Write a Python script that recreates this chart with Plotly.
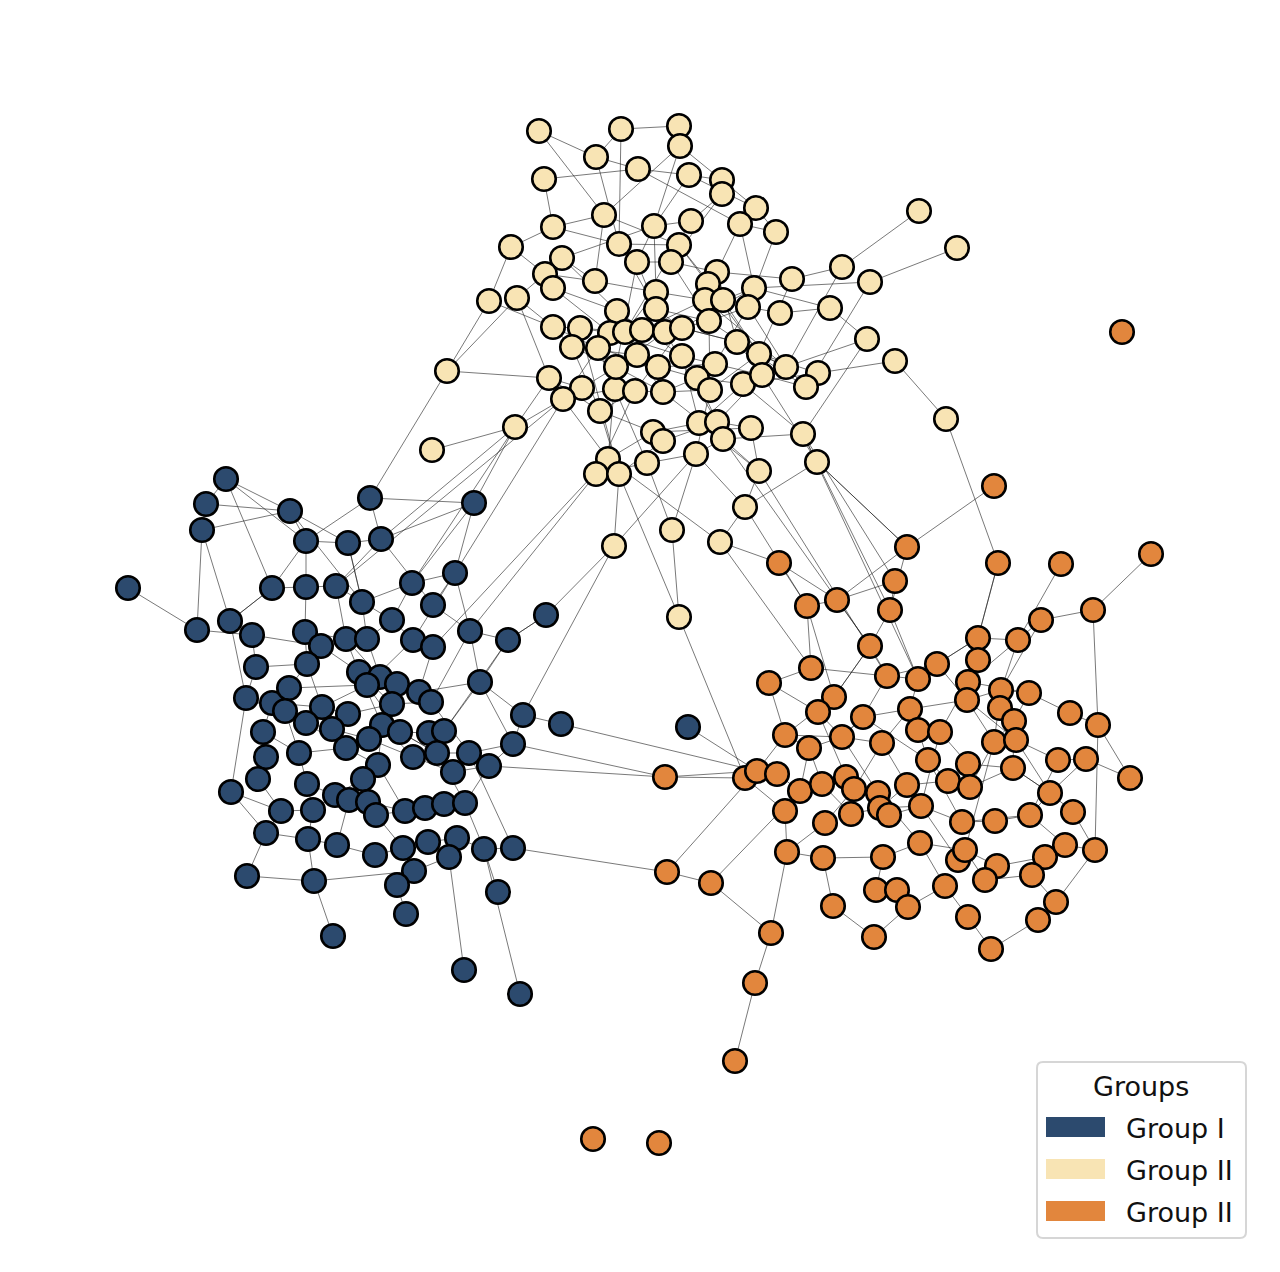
#!/usr/bin/env python3
"""
Three-group network plot (node positions + edges read from the reference layout)
usage: python3 plot.py  -> out.html
"""
import numpy as np
import plotly.graph_objects as go

W, H = 1280, 1272
PAGE_MARGIN = 8  # default <body> margin of the browser page

LEGEND_TITLE = "Groups"
GROUP_LABELS = ["Group I", "Group II", "Group II"]
GROUP_COLORS = ["#2c4a6e", "#f8e4b4", "#e2863d"]

# layout positions (pixel-like layout space, y down)
GROUP_I_NODES = [
    (226, 479), (206, 504), (202, 530), (370, 498), (474, 503), (290, 511), (306, 541), (348, 543),
    (381, 539), (128, 588), (272, 588), (306, 587), (336, 586), (412, 583), (455, 573), (362, 602),
    (433, 605), (546, 615), (197, 630), (230, 621), (252, 635), (305, 632), (321, 646), (346, 639),
    (367, 639), (392, 620), (413, 640), (433, 647), (470, 631), (508, 640), (256, 667), (307, 664),
    (359, 672), (380, 677), (367, 685), (397, 684), (419, 692), (431, 702), (392, 704), (480, 682),
    (246, 698), (272, 703), (289, 688), (285, 711), (322, 707), (348, 714), (306, 723), (332, 729),
    (382, 725), (400, 732), (429, 733), (444, 731), (523, 715), (561, 724), (688, 727), (263, 732),
    (266, 757), (299, 753), (346, 748), (369, 739), (413, 757), (437, 753), (469, 753), (489, 766),
    (513, 744), (378, 765), (453, 772), (258, 779), (307, 784), (363, 779), (335, 795), (231, 792),
    (281, 811), (313, 810), (349, 800), (368, 802), (376, 815), (405, 811), (425, 808), (444, 804),
    (465, 803), (266, 833), (308, 839), (337, 845), (375, 855), (403, 848), (428, 842), (457, 838),
    (449, 857), (484, 849), (513, 848), (414, 871), (397, 885), (247, 876), (314, 881), (498, 892),
    (406, 914), (333, 936), (464, 970), (520, 994),
]

GROUP_II_NODES = [
    (539, 131), (621, 129), (679, 126), (680, 146), (596, 157), (638, 169), (544, 179), (689, 175),
    (722, 180), (722, 194), (756, 208), (604, 215), (553, 227), (654, 226), (691, 221), (740, 224),
    (776, 232), (919, 211), (957, 248), (511, 247), (562, 258), (619, 244), (679, 245), (671, 262),
    (637, 262), (717, 272), (545, 274), (553, 288), (595, 281), (656, 292), (708, 284), (705, 300),
    (723, 300), (754, 288), (792, 279), (842, 267), (870, 282), (489, 301), (517, 298), (617, 311),
    (656, 309), (748, 307), (780, 313), (830, 308), (553, 327), (580, 328), (610, 333), (625, 332),
    (642, 330), (665, 332), (682, 328), (709, 321), (572, 347), (598, 348), (637, 355), (682, 356),
    (715, 364), (737, 342), (759, 354), (786, 367), (818, 373), (867, 339), (895, 361), (447, 371),
    (549, 378), (582, 388), (615, 389), (635, 391), (616, 367), (658, 367), (663, 392), (697, 378),
    (710, 390), (743, 384), (762, 375), (806, 387), (563, 399), (600, 411), (946, 419), (515, 427),
    (653, 432), (663, 441), (699, 423), (717, 422), (723, 439), (751, 428), (803, 434), (432, 450),
    (608, 459), (596, 474), (619, 474), (647, 463), (696, 454), (759, 471), (817, 462), (745, 507),
    (672, 530), (720, 542), (614, 546), (679, 617),
]

GROUP_III_NODES = [
    (1122, 332), (994, 486), (907, 547), (1151, 554), (779, 563), (998, 563), (1061, 564), (895, 581),
    (807, 606), (837, 600), (890, 610), (1093, 610), (1041, 620), (978, 638), (1018, 640), (870, 646),
    (978, 660), (937, 664), (811, 668), (887, 676), (918, 679), (968, 682), (1001, 690), (1029, 693),
    (769, 683), (834, 697), (967, 700), (818, 712), (863, 717), (910, 709), (1000, 708), (1014, 721),
    (1070, 713), (1098, 725), (785, 735), (842, 737), (882, 743), (918, 730), (940, 732), (994, 742),
    (1016, 740), (809, 748), (928, 760), (968, 764), (1013, 768), (1058, 760), (1086, 759), (665, 777),
    (745, 778), (757, 771), (777, 774), (800, 791), (822, 784), (846, 777), (854, 789), (878, 793),
    (907, 785), (948, 781), (970, 787), (1130, 778), (785, 811), (825, 823), (851, 814), (880, 808),
    (889, 815), (921, 806), (962, 822), (995, 821), (1030, 815), (1050, 793), (1073, 812), (787, 852),
    (823, 858), (883, 857), (920, 843), (958, 860), (965, 850), (997, 866), (1045, 857), (1065, 845),
    (1095, 850), (667, 872), (711, 883), (876, 890), (897, 890), (945, 886), (985, 880), (1032, 875),
    (1056, 902), (833, 906), (908, 907), (968, 917), (1038, 920), (771, 933), (874, 937), (991, 949),
    (755, 983), (735, 1061), (593, 1139), (659, 1143),
]

# edges written as chains through nodes: consecutive points are linked
EDGE_CHAINS = [
    # group II
    [(539, 131), (604, 215), (553, 227), (511, 247), (489, 301), (447, 371), (549, 378), (515, 427), (432, 450)],
    [(621, 129), (679, 126), (680, 146), (756, 208), (776, 232), (748, 307), (786, 367)],
    [(621, 129), (619, 244), (637, 262), (671, 262), (717, 272), (792, 279), (842, 267), (919, 211)],
    [(596, 157), (638, 169), (740, 224), (754, 288), (830, 308), (867, 339), (803, 434), (890, 610)],
    [(544, 179), (638, 169), (689, 175), (722, 180), (722, 194), (691, 221), (654, 226), (562, 258)],
    [(544, 179), (553, 227), (619, 244), (679, 245), (708, 284), (759, 354), (818, 373), (895, 361), (946, 419), (998, 563)],
    [(680, 146), (604, 215), (595, 281), (545, 274), (517, 298), (553, 327), (580, 328), (610, 333)],
    [(680, 146), (654, 226), (656, 292), (625, 332), (598, 348), (563, 399), (515, 427)],
    [(596, 157), (619, 244), (656, 309), (682, 328), (737, 342), (806, 387), (870, 282), (957, 248)],
    [(511, 247), (545, 274), (553, 288), (617, 311), (642, 330), (665, 332), (709, 321), (748, 307), (780, 313), (830, 308)],
    [(562, 258), (595, 281), (656, 292), (705, 300), (723, 300), (754, 288)],
    [(553, 288), (610, 333), (682, 356), (715, 364), (762, 375), (817, 462), (907, 547)],
    [(572, 347), (637, 355), (658, 367), (697, 378), (743, 384), (803, 434), (895, 581)],
    [(549, 378), (582, 388), (616, 367), (665, 332), (717, 422), (751, 428), (759, 471)],
    [(563, 399), (615, 389), (642, 330), (705, 300), (786, 367), (842, 267)],
    [(600, 411), (635, 391), (663, 392), (710, 390), (759, 354), (792, 279)],
    [(608, 459), (653, 432), (699, 423), (743, 384), (818, 373)],
    [(596, 474), (647, 463), (696, 454), (723, 439), (803, 434)],
    [(619, 474), (663, 441), (717, 422), (762, 375), (867, 339)],
    [(614, 546), (619, 474), (600, 411), (572, 347), (553, 327)],
    [(614, 546), (696, 454), (745, 507), (817, 462)],
    [(679, 617), (672, 530), (647, 463), (615, 389), (598, 348)],
    [(679, 617), (619, 474), (580, 328), (625, 332), (691, 221)],
    [(720, 542), (608, 459), (563, 399)],
    [(720, 542), (745, 507), (759, 471), (723, 439), (663, 392), (637, 355)],
    [(672, 530), (696, 454), (710, 390), (709, 321), (671, 262), (722, 194)],
    [(489, 301), (553, 327), (598, 348), (658, 367), (715, 364), (748, 307)],
    [(517, 298), (549, 378), (600, 411), (653, 432), (751, 428)],
    [(447, 371), (517, 298)],
    [(539, 131), (596, 157), (621, 129)],
    [(776, 232), (740, 224), (717, 272), (737, 342), (786, 367), (806, 387)],
    [(756, 208), (689, 175), (654, 226), (637, 262), (616, 367), (608, 459)],
    [(870, 282), (754, 288), (682, 328), (635, 391), (596, 474)],
    [(604, 215), (679, 245), (723, 300), (759, 354)],
    [(562, 258), (617, 311), (682, 356), (699, 423), (759, 471)],
    [(610, 333), (641, 330), (682, 328), (737, 342), (762, 375), (806, 387), (818, 373)],
    [(637, 262), (656, 309), (709, 321), (759, 354), (786, 367)],
    [(572, 347), (616, 367), (663, 392), (697, 378), (717, 422)],
    # group I
    [(128, 588), (197, 630), (202, 530), (206, 504), (226, 479), (290, 511), (348, 543), (381, 539), (370, 498), (474, 503), (455, 573)],
    [(206, 504), (290, 511), (306, 541), (272, 588), (230, 621), (246, 698), (231, 792), (266, 833), (247, 876)],
    [(226, 479), (306, 541), (348, 543), (362, 602), (412, 583), (455, 573), (433, 605), (470, 631), (508, 640), (546, 615)],
    [(370, 498), (306, 541), (306, 587), (305, 632), (307, 664), (289, 688), (272, 703), (263, 732), (266, 757), (258, 779)],
    [(381, 539), (336, 586), (346, 639), (359, 672), (382, 725), (413, 757), (453, 772), (489, 766), (513, 744), (523, 715), (561, 724), (757, 771)],
    [(197, 630), (252, 635), (256, 667), (246, 698), (285, 711), (306, 723), (332, 729), (369, 739), (400, 732), (429, 733), (444, 731), (480, 682), (508, 640)],
    [(230, 621), (272, 588), (306, 587), (336, 586), (392, 620), (413, 640), (433, 647), (419, 692), (431, 702), (469, 753), (513, 848), (667, 872), (711, 883), (771, 933), (755, 983), (735, 1061)],
    [(321, 646), (367, 639), (392, 620), (412, 583), (474, 503)],
    [(305, 632), (346, 639), (380, 677), (397, 684), (419, 692), (480, 682), (523, 715)],
    [(256, 667), (307, 664), (322, 707), (348, 714), (392, 704), (431, 702), (470, 631)],
    [(289, 688), (367, 685), (400, 732), (437, 753), (465, 803), (484, 849), (498, 892)],
    [(285, 711), (299, 753), (307, 784), (313, 810), (308, 839), (314, 881), (333, 936)],
    [(263, 732), (299, 753), (346, 748), (378, 765), (363, 779), (349, 800), (337, 845), (375, 855), (403, 848), (428, 842), (457, 838), (484, 849), (513, 848)],
    [(266, 757), (258, 779), (281, 811), (266, 833), (308, 839), (337, 845)],
    [(231, 792), (281, 811), (313, 810), (335, 795), (368, 802), (405, 811), (425, 808), (444, 804), (465, 803), (489, 766)],
    [(376, 815), (403, 848), (414, 871), (397, 885), (406, 914)],
    [(449, 857), (464, 970)],
    [(484, 849), (520, 994)],
    [(247, 876), (314, 881), (414, 871), (449, 857), (428, 842)],
    [(332, 729), (346, 748), (369, 739), (413, 757), (437, 753), (469, 753), (513, 744)],
    [(359, 672), (392, 704), (382, 725), (378, 765), (405, 811)],
    [(307, 784), (335, 795), (363, 779), (376, 815), (425, 808)],
    [(252, 635), (321, 646), (359, 672), (397, 684)],
    [(348, 543), (362, 602), (367, 639), (380, 677)],
    [(455, 573), (470, 631), (480, 682), (513, 744)],
    [(546, 615), (508, 640), (444, 731)],
    [(433, 605), (381, 539), (474, 503)],
    [(290, 511), (362, 602)],
    [(202, 530), (230, 621)],
    [(202, 530), (290, 511)],
    [(226, 479), (272, 588)],
    [(688, 727), (757, 771)],
    [(513, 744), (665, 777), (745, 778)],
    [(489, 766), (665, 777)],
    [(272, 703), (322, 707), (367, 685), (413, 640), (455, 573)],
    [(246, 698), (306, 723), (346, 748), (400, 732), (437, 753)],
    # group I <-> group II
    [(412, 583), (515, 427), (474, 503)],
    [(381, 539), (515, 427)],
    [(370, 498), (447, 371)],
    [(336, 586), (563, 399), (455, 573)],
    [(470, 631), (596, 474)],
    [(433, 647), (608, 459)],
    [(546, 615), (614, 546), (523, 715)],
    # group III
    [(994, 486), (907, 547), (837, 600), (807, 606), (811, 668), (769, 683), (785, 735), (757, 771), (745, 778), (777, 774), (800, 791), (822, 784), (846, 777), (854, 789), (878, 793)],
    [(1151, 554), (1093, 610), (1041, 620), (1018, 640), (978, 638), (937, 664), (918, 679), (887, 676), (870, 646), (890, 610), (895, 581), (837, 600)],
    [(998, 563), (978, 638), (978, 660), (968, 682), (967, 700), (1001, 690), (1029, 693), (1070, 713), (1098, 725), (1093, 610)],
    [(1061, 564), (1018, 640), (1001, 690), (1000, 708), (1014, 721), (994, 742), (1016, 740), (1058, 760), (1086, 759), (1130, 778)],
    [(779, 563), (807, 606), (834, 697), (818, 712), (842, 737), (863, 717), (910, 709), (918, 730), (940, 732), (968, 764), (1013, 768), (1050, 793), (1073, 812)],
    [(907, 547), (890, 610), (918, 679), (910, 709), (882, 743), (854, 789), (825, 823), (787, 852)],
    [(870, 646), (834, 697), (785, 735), (809, 748), (800, 791), (785, 811), (787, 852), (771, 933)],
    [(887, 676), (863, 717), (842, 737), (809, 748), (822, 784), (851, 814), (880, 808), (921, 806), (962, 822), (995, 821), (1030, 815), (1065, 845), (1095, 850), (1098, 725)],
    [(937, 664), (967, 700), (994, 742), (970, 787), (948, 781), (928, 760), (918, 730)],
    [(968, 682), (1029, 693), (1014, 721), (1013, 768), (1050, 793), (1086, 759)],
    [(878, 793), (889, 815), (921, 806), (958, 860), (965, 850), (997, 866), (1045, 857), (1065, 845)],
    [(823, 858), (883, 857), (920, 843), (965, 850), (985, 880), (1032, 875), (1056, 902), (1038, 920), (991, 949)],
    [(787, 852), (823, 858), (833, 906), (874, 937), (908, 907), (897, 890), (876, 890), (883, 857)],
    [(945, 886), (968, 917), (991, 949)],
    [(945, 886), (908, 907)],
    [(1073, 812), (1095, 850), (1056, 902)],
    [(1130, 778), (1098, 725)],
    [(665, 777), (757, 771)],
    [(667, 872), (757, 771)],
    [(711, 883), (800, 791)],
    [(745, 778), (785, 811)],
    [(785, 735), (842, 737), (882, 743), (907, 785), (948, 781), (970, 787), (1013, 768)],
    [(811, 668), (887, 676), (937, 664), (978, 638), (998, 563)],
    [(863, 717), (928, 760), (962, 822), (1030, 815), (1058, 760)],
    [(769, 683), (818, 712), (846, 777), (880, 808), (907, 785)],
    [(834, 697), (870, 646), (837, 600), (779, 563)],
    [(1041, 620), (1001, 690), (994, 742), (965, 850)],
    [(1018, 640), (968, 682), (940, 732), (921, 806)],
    [(910, 709), (967, 700), (1016, 740), (1050, 793), (1030, 815)],
    [(842, 737), (878, 793), (920, 843), (945, 886)],
    # group II <-> group III
    [(817, 462), (907, 547)],
    [(759, 471), (887, 676)],
    [(723, 439), (870, 646)],
    [(803, 434), (918, 679)],
    [(720, 542), (811, 668)],
    [(720, 542), (779, 563)],
    [(745, 507), (807, 606)],
    [(679, 617), (745, 778)],
]


def all_nodes():
    groups = [GROUP_I_NODES, GROUP_II_NODES, GROUP_III_NODES]
    return np.array([p for g in groups for p in g], dtype=float)


def edge_xy():
    """snap every chain point onto its node, return a None-separated line path"""
    pts = all_nodes()
    xs, ys = [], []
    for chain in EDGE_CHAINS:
        idx = [int(np.argmin(((pts - np.array(p)) ** 2).sum(axis=1))) for p in chain]
        for a, b in zip(idx[:-1], idx[1:]):
            xs += [pts[a, 0], pts[b, 0], None]
            ys += [pts[a, 1], pts[b, 1], None]
    return xs, ys


def rounded_rect(x0, y0, x1, y1, r):
    return (f"M{x0 + r},{y0} L{x1 - r},{y0} Q{x1},{y0} {x1},{y0 + r} "
            f"L{x1},{y1 - r} Q{x1},{y1} {x1 - r},{y1} L{x0 + r},{y1} "
            f"Q{x0},{y1} {x0},{y1 - r} L{x0},{y0 + r} Q{x0},{y0} {x0 + r},{y0} Z")


def main():
    fig = go.Figure()

    ex, ey = edge_xy()
    fig.add_trace(go.Scatter(x=ex, y=ey, mode="lines", hoverinfo="skip", showlegend=False,
                             line=dict(color="rgba(30,30,30,0.75)", width=0.8)))

    for nodes, color, label in zip([GROUP_I_NODES, GROUP_II_NODES, GROUP_III_NODES],
                                   GROUP_COLORS, GROUP_LABELS):
        fig.add_trace(go.Scatter(
            x=[p[0] for p in nodes], y=[p[1] for p in nodes], mode="markers",
            name=label, showlegend=False,
            marker=dict(size=23.5, color=color, line=dict(color="black", width=2.6))))

    # legend box drawn by hand (matplotlib-style wide patches)
    fig.add_shape(type="path", path=rounded_rect(1037, 1062, 1246, 1238, 6),
                  xref="x", yref="y", line=dict(color="#d6d6d6", width=2),
                  fillcolor="rgba(255,255,255,0.8)", layer="above")
    fig.add_annotation(x=1141, y=1086, xref="x", yref="y", text=LEGEND_TITLE, showarrow=False,
                       font=dict(size=27, color="#111111"), xanchor="center", yanchor="middle")
    for i, (color, label) in enumerate(zip(GROUP_COLORS, GROUP_LABELS)):
        yc = 1127 + 42 * i
        fig.add_shape(type="rect", x0=1046, x1=1105, y0=yc - 10, y1=yc + 10,
                      xref="x", yref="y", line=dict(width=0), fillcolor=color, layer="above")
        fig.add_annotation(x=1124, y=yc + 1, xref="x", yref="y", text=label, showarrow=False,
                           font=dict(size=27, color="#111111"), xanchor="left", yanchor="middle")

    # the page puts the plot at (8, 8): shrink the figure and shift the ranges to match
    m = PAGE_MARGIN
    fig.update_layout(
        width=W - 2 * m, height=H - 2 * m, margin=dict(l=0, r=0, t=0, b=0),
        paper_bgcolor="white", plot_bgcolor="white",
        font=dict(family="DejaVu Sans"),
        xaxis=dict(range=[m, W - m], visible=False, fixedrange=True),
        yaxis=dict(range=[H - m, m], visible=False, fixedrange=True),
    )
    fig.write_html("out.html")


if __name__ == "__main__":
    main()
